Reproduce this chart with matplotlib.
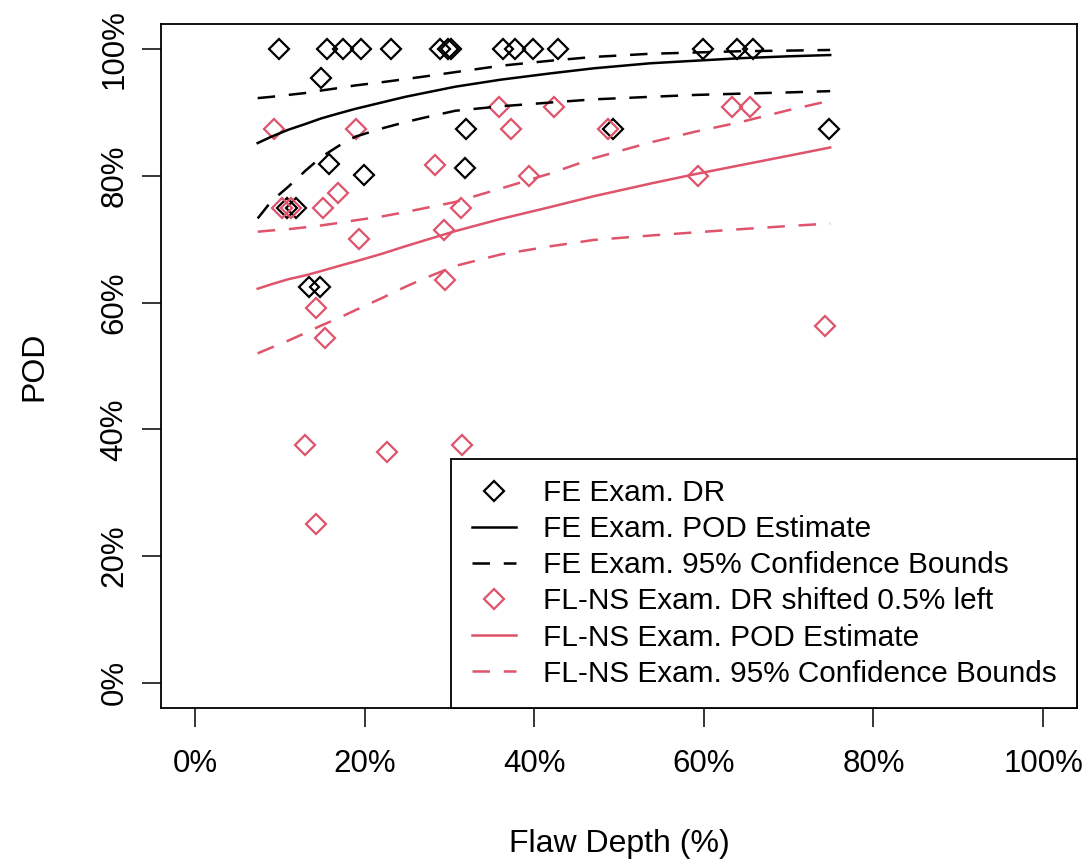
import matplotlib
matplotlib.use("Agg")
import matplotlib.pyplot as plt
from matplotlib.lines import Line2D
from matplotlib.ticker import FuncFormatter

plt.rcParams['font.family'] = ['Liberation Sans', 'DejaVu Sans']

# ---- data (percent) ----
fe_x = [9.9, 15.6, 17.5, 19.6, 23.1, 28.9, 29.8, 30.2, 36.3, 37.7, 39.9, 42.8, 59.9, 63.9, 65.8,
        14.9, 32.0, 31.8, 15.8, 19.9, 10.8, 11.9, 13.4, 14.7, 49.3, 74.8]
fe_y = [100, 100, 100, 100, 100, 100, 100, 100, 100, 100, 100, 100, 100, 100, 100,
        95.5, 87.5, 81.3, 81.9, 80.1, 75.0, 75.0, 62.5, 62.5, 87.5, 87.5]

fl_x = [9.35, 19.0, 35.8, 37.3, 42.3, 28.3, 39.4, 16.9, 15.1, 10.3, 11.3, 31.4, 29.4, 19.3,
        29.5, 14.3, 15.3, 13.0, 22.6, 31.5, 14.3, 48.7, 63.3, 65.4, 59.3, 74.3]
fl_y = [87.5, 87.5, 90.9, 87.5, 90.9, 81.8, 80.0, 77.3, 75.0, 75.0, 75.0, 75.0, 71.4, 70.0,
        63.6, 59.1, 54.5, 37.5, 36.4, 37.5, 25.0, 87.5, 90.9, 90.9, 80.0, 56.3]

curve_x = [7.4, 9.0, 11.0, 13.0, 14.9, 17.0, 18.9, 22.0, 24.8, 27.0, 30.7, 36.0, 41.9, 47.0,
           53.7, 59.0, 64.3, 70.0, 74.9]
fe_est = [85.2, 86.2, 87.3, 88.2, 89.1, 89.9, 90.6, 91.6, 92.5, 93.1, 94.1, 95.2, 96.2, 97.0,
          97.8, 98.2, 98.6, 98.9, 99.1]
fe_up = [92.3, 92.5, 92.8, 93.1, 93.5, 93.9, 94.3, 94.8, 95.3, 95.7, 96.4, 97.4, 98.2, 98.8,
         99.3, 99.5, 99.7, 99.8, 99.9]
fe_lo = [73.3, 76.0, 78.3, 80.8, 83.0, 84.8, 86.2, 87.5, 88.5, 89.2, 90.3, 91.0, 91.6, 92.1,
         92.5, 92.8, 93.0, 93.2, 93.4]
fl_est = [62.2, 62.9, 63.7, 64.3, 65.0, 65.8, 66.5, 67.7, 68.9, 69.8, 71.3, 73.2, 75.1, 76.8,
          78.8, 80.3, 81.7, 83.2, 84.5]
fl_up = [71.2, 71.4, 71.6, 71.9, 72.2, 72.6, 73.0, 73.6, 74.3, 74.9, 75.9, 78.0, 80.4, 82.8,
         85.3, 87.0, 88.5, 90.4, 91.9]
fl_lo = [52.0, 52.9, 54.0, 55.2, 56.4, 57.6, 58.8, 60.7, 62.5, 63.8, 65.8, 67.6, 68.9, 69.9,
         70.6, 71.1, 71.6, 72.1, 72.5]

ticks = [0, 20, 40, 60, 80, 100]
labels = ["FE Exam. DR", "FE Exam. POD Estimate", "FE Exam. 95% Confidence Bounds",
          "FL-NS Exam. DR shifted 0.5% left", "FL-NS Exam. POD Estimate",
          "FL-NS Exam. 95% Confidence Bounds"]

RED = "#DF536B"
FS_TICK = 22.5
FS_LAB = 23
FS_LEG = 21.4
dash = (7, 5.5)

fig = plt.figure(figsize=(10.86, 8.63), dpi=100)
ax = fig.add_axes([161 / 1086, 1 - 708 / 863, 916 / 1086, 684 / 863])

ms = 10
mew = 1.6
ax.plot(fe_x, fe_y, linestyle='none', marker='D', ms=ms, mfc='none', mec='black', mew=mew)
ax.plot(fl_x, fl_y, linestyle='none', marker='D', ms=ms, mfc='none', mec=RED, mew=mew)

lw = 1.8
ax.plot(curve_x, fe_est, color='black', lw=lw)
ax.plot(curve_x, fe_up, color='black', lw=lw, dashes=dash)
ax.plot(curve_x, fe_lo, color='black', lw=lw, dashes=dash)
ax.plot(curve_x, fl_est, color=RED, lw=lw)
ax.plot(curve_x, fl_up, color=RED, lw=lw, dashes=dash)
ax.plot(curve_x, fl_lo, color=RED, lw=lw, dashes=dash)

ax.set_xlim(-4, 104)
ax.set_ylim(-4, 104)
ax.set_xticks(ticks)
ax.set_yticks(ticks)
fmt = FuncFormatter(lambda v, p: f"{int(v)}%")
ax.xaxis.set_major_formatter(fmt)
ax.yaxis.set_major_formatter(fmt)
ax.tick_params(axis='both', direction='out', length=13.7, width=1.1, labelsize=FS_TICK,
               colors='black')
ax.tick_params(axis='x', pad=16)
ax.tick_params(axis='y', pad=9, labelrotation=90)
for lab in ax.get_yticklabels():
    lab.set_va('center')
for s in ax.spines.values():
    s.set_linewidth(1.3)
    s.set_color('black')

ax.set_xlabel("Flaw Depth (%)", fontsize=FS_LAB, labelpad=36)
ax.set_ylabel("POD", fontsize=FS_LAB, labelpad=36)

handles = [
    Line2D([], [], linestyle='none', marker='D', ms=ms, mfc='none', mec='black', mew=mew),
    Line2D([], [], color='black', lw=lw),
    Line2D([], [], color='black', lw=lw, dashes=dash),
    Line2D([], [], linestyle='none', marker='D', ms=ms, mfc='none', mec=RED, mew=mew),
    Line2D([], [], color=RED, lw=lw),
    Line2D([], [], color=RED, lw=lw, dashes=dash),
]
leg = ax.legend(handles, labels, loc='lower right', fontsize=FS_LEG, frameon=True,
                fancybox=False, edgecolor='black', framealpha=1, borderaxespad=0,
                handlelength=1.5, handletextpad=0.9, labelspacing=0.275, borderpad=0.68)
leg.get_frame().set_linewidth(1.3)

fig.savefig("out.png", dpi=100)
